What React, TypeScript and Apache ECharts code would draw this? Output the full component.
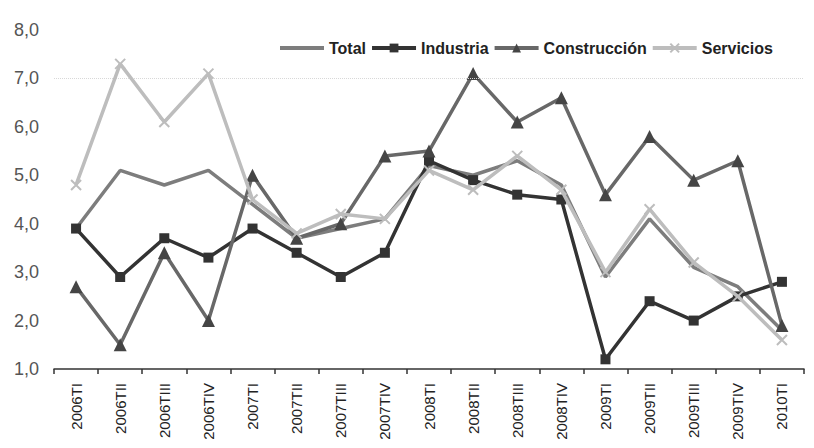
import React, { useEffect, useRef } from "react";
import * as echarts from "echarts";

const categories = [
  "2006TI", "2006TII", "2006TIII", "2006TIV",
  "2007TI", "2007TII", "2007TIII", "2007TIV",
  "2008TI", "2008TII", "2008TIII", "2008TIV",
  "2009TI", "2009TII", "2009TIII", "2009TIV",
  "2010TI",
];
const total = [3.9, 5.1, 4.8, 5.1, 4.4, 3.7, 3.9, 4.1, 5.2, 5.0, 5.3, 4.8, 2.9, 4.1, 3.1, 2.7, 1.8];
const industria = [3.9, 2.9, 3.7, 3.3, 3.9, 3.4, 2.9, 3.4, 5.3, 4.9, 4.6, 4.5, 1.2, 2.4, 2.0, 2.5, 2.8];
const construccion = [2.7, 1.5, 3.4, 2.0, 5.0, 3.7, 4.0, 5.4, 5.5, 7.1, 6.1, 6.6, 4.6, 5.8, 4.9, 5.3, 1.9];
const servicios = [4.8, 7.3, 6.1, 7.1, 4.5, 3.8, 4.2, 4.1, 5.1, 4.7, 5.4, 4.7, 3.0, 4.3, 3.2, 2.5, 1.6];

export default function App() {
  const ref = useRef<HTMLDivElement>(null);
  useEffect(() => {
    if (!ref.current) return;
    const chart = echarts.init(ref.current, undefined, { renderer: "svg" });
    chart.setOption({
      animation: false,
      backgroundColor: "#ffffff",
      legend: {
        left: 273,
        top: 35,
        itemWidth: 44,
        itemHeight: 11,
        itemGap: 4,
        lineStyle: { width: 4 },
        textStyle: {
          fontFamily: "'Liberation Sans', Arial, sans-serif",
          fontWeight: "bold",
          fontSize: 16,
          color: "#222",
        },
        data: [
          { name: "Total", itemStyle: { opacity: 0 } },
          "Industria",
          "Construcción",
          "Servicios",
        ],
      },
      grid: { left: 54, right: 10, top: 30, bottom: 79 },
      xAxis: {
        type: "category",
        data: categories,
        boundaryGap: true,
        axisLine: { lineStyle: { color: "#333", width: 1.5 } },
        axisTick: { show: true, length: 5, lineStyle: { color: "#333", width: 1.5 } },
        axisLabel: {
          rotate: 90,
          interval: 0,
          fontFamily: "'Liberation Sans', Arial, sans-serif",
          fontSize: 15,
          color: "#222",
          margin: 14,
        },
      },
      yAxis: {
        type: "value",
        min: 1,
        max: 8,
        interval: 1,
        axisLine: { show: false },
        axisTick: { show: false },
        splitLine: { show: false },
        axisLabel: {
          fontFamily: "'Liberation Sans', Arial, sans-serif",
          fontSize: 18,
          color: "#555",
          margin: 15,
          formatter: (v: number) => v.toFixed(1).replace(".", ","),
        },
      },
      series: [
        {
          name: "Total",
          type: "line",
          data: total,
          symbol: "none",
          lineStyle: { color: "#7d7d7d", width: 3.5 },
          itemStyle: { color: "#7d7d7d" },
          z: 2,
          markLine: {
            silent: true,
            symbol: "none",
            label: { show: false },
            lineStyle: { color: "#d8d8d8", type: "dotted", width: 1 },
            data: [{ yAxis: 7 }],
          },
        },
        {
          name: "Industria",
          type: "line",
          data: industria,
          symbol: "rect",
          symbolSize: 10,
          lineStyle: { color: "#333333", width: 3.5 },
          itemStyle: { color: "#333333" },
          z: 3,
        },
        {
          name: "Construcción",
          type: "line",
          data: construccion,
          symbol: "triangle",
          symbolSize: 13,
          lineStyle: { color: "#686868", width: 3.5 },
          itemStyle: { color: "#454545" },
          z: 4,
        },
        {
          name: "Servicios",
          type: "line",
          data: servicios,
          symbol: "path://M0,0 L10,10 M10,0 L0,10",
          symbolSize: 10,
          lineStyle: { color: "#bdbdbd", width: 3.5 },
          itemStyle: { color: "none", borderColor: "#bdbdbd", borderWidth: 2 },
          z: 5,
        },
      ],
    });
    return () => chart.dispose();
  }, []);
  return <div ref={ref} style={{ width: 814, height: 448, position: "absolute", left: 0, top: 0 }} />;
}
